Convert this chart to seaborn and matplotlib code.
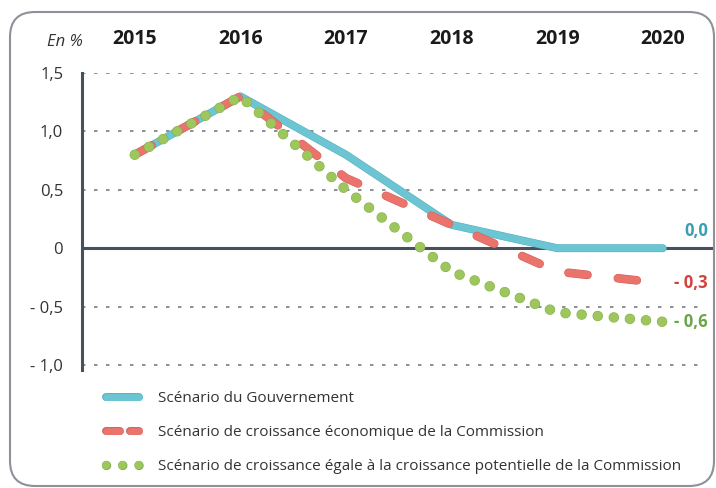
import pandas as pd
import numpy as np
import matplotlib
matplotlib.use("Agg")
import matplotlib.pyplot as plt
import matplotlib.patheffects as pe
from matplotlib.lines import Line2D
from matplotlib.patches import FancyBboxPatch
import seaborn as sns

# données
annees = [2015, 2016, 2017, 2018, 2019, 2020]
gouvernement = [0.8, 1.3, 0.8, 0.2, 0.0, 0.0]
commission = [0.8, 1.3, 0.6, 0.2, -0.2, -0.3]
potentielle = [0.8, 1.3, 0.5, -0.2, -0.55, -0.63]
noms = [
    "Scénario du Gouvernement",
    "Scénario de croissance économique de la Commission",
    "Scénario de croissance égale à la croissance potentielle de la Commission",
]
etiquettes_fin = ["0,0", "- 0,3", "- 0,6"]
y_ticks = [-1.0, -0.5, 0, 0.5, 1.0, 1.5]
y_labels = ["- 1,0", "- 0,5", "0", "0,5", "1,0", "1,5"]

df = pd.DataFrame({
    "Année": annees * 3,
    "Valeur": gouvernement + commission + potentielle,
    "Scénario": [n for n in noms for _ in annees],
})

sns.set_theme(style="white")
plt.rcParams["font.family"] = ["Open Sans", "DejaVu Sans"]

couleurs = ["#6cc5d3", "#ea736c", "#9dc65d"]
bords = ["#58aebd", "#cf5f58", "#86ad4c"]
couleurs_txt = ["#3a9fb4", "#d0443d", "#6ba547"]
largeurs = [5.0, 5.5, 6.8]
styles = ["-", (0, (2.5, 4.0)), (0, (0.01, 1.7))]

fig = plt.figure(figsize=(7.16, 4.88), dpi=100)
W, H = 716, 488
ax = fig.add_axes([82 / W, (H - 370) / H, (705 - 82) / W, (370 - 73) / H])

# cadre arrondi
cadre = FancyBboxPatch((0.10, 0.02), 7.04, 4.74, boxstyle="round,pad=0,rounding_size=0.25",
                       transform=fig.dpi_scale_trans, facecolor="none",
                       edgecolor="#8d9299", lw=1.5, zorder=0)
fig.patches.append(cadre)

for i, nom in enumerate(noms):
    sns.lineplot(data=df[df["Scénario"] == nom], x="Année", y="Valeur", ax=ax,
                 color=couleurs[i], lw=largeurs[i], linestyle=styles[i],
                 dash_capstyle="round", solid_capstyle="round", solid_joinstyle="round",
                 path_effects=[pe.Stroke(linewidth=largeurs[i] + 0.7, foreground=bords[i]), pe.Normal()],
                 legend=False, zorder=3 + i)

ax.set_xlim(2014.5, 2020.4)
ax.set_ylim(-1.043, 1.5)
ax.axhline(0, xmin=0, xmax=(713 - 82) / (705 - 82), color="#47505c", lw=2.2, zorder=2, clip_on=False)

ax.set_yticks(y_ticks)
ax.set_yticklabels(y_labels)
ax.set_xticks(annees)
ax.set_xticklabels([str(a) for a in annees])
ax.xaxis.tick_top()
ax.tick_params(axis="x", length=0, pad=17, labelsize=14, labelcolor="#1a1a1a")
ax.tick_params(axis="y", length=0, pad=13.5, labelsize=12, labelcolor="#333333")
for t in ax.get_xticklabels():
    t.set_fontweight("bold")
ax.set_xlabel("")
ax.set_ylabel("")

ax.grid(axis="y", color="#8e9399", lw=1.44, linestyle=(0, (1.75, 4.25)), zorder=1)
ax.grid(axis="x", visible=False)
for s in ["top", "right", "bottom"]:
    ax.spines[s].set_visible(False)
ax.spines["left"].set_color("#47505c")
ax.spines["left"].set_linewidth(2.2)
ax.set_facecolor("none")

# étiquettes de fin de courbe
series = [gouvernement, commission, potentielle]
decalages = [12.2, 0, 0]
for i in range(3):
    ax.annotate(etiquettes_fin[i], xy=(annees[-1], series[i][-1]),
                xytext=(32.4, decalages[i]), textcoords="offset points",
                ha="right", va="center", fontsize=12, fontweight="bold",
                color=couleurs_txt[i], annotation_clip=False)

fig.text(83 / W, 1 - 42 / H, "En %", ha="right", va="center", fontsize=12,
         style="italic", color="#333333")

# légende
fs = 11
fs_px = fs * 100 / 72
poignees = []
poignees.append(Line2D([], [], color=couleurs[0], lw=largeurs[0], solid_capstyle="round",
                       path_effects=[pe.Stroke(linewidth=largeurs[0] + 0.7, foreground=bords[0]), pe.Normal()]))
poignees.append(Line2D([], [], color=couleurs[1], lw=5.0, linestyle=(0, (2.0, 1.45)),
                       dash_capstyle="round",
                       path_effects=[pe.Stroke(linewidth=5.7, foreground=bords[1]), pe.Normal()]))
poignees.append(Line2D([], [], color=couleurs[2], lw=6.0, linestyle=(0, (0.01, 1.94)),
                       dash_capstyle="round",
                       path_effects=[pe.Stroke(linewidth=6.7, foreground=bords[2]), pe.Normal()]))
fig.legend(poignees, noms, loc="upper left", bbox_to_anchor=(106.5 / W, 1 - 391 / H),
           frameon=False, fontsize=fs, handlelength=33 / fs_px, handletextpad=18.5 / fs_px,
           labelspacing=1.24, borderpad=0, borderaxespad=0, labelcolor="#333333")

fig.savefig("out.png", dpi=100)
